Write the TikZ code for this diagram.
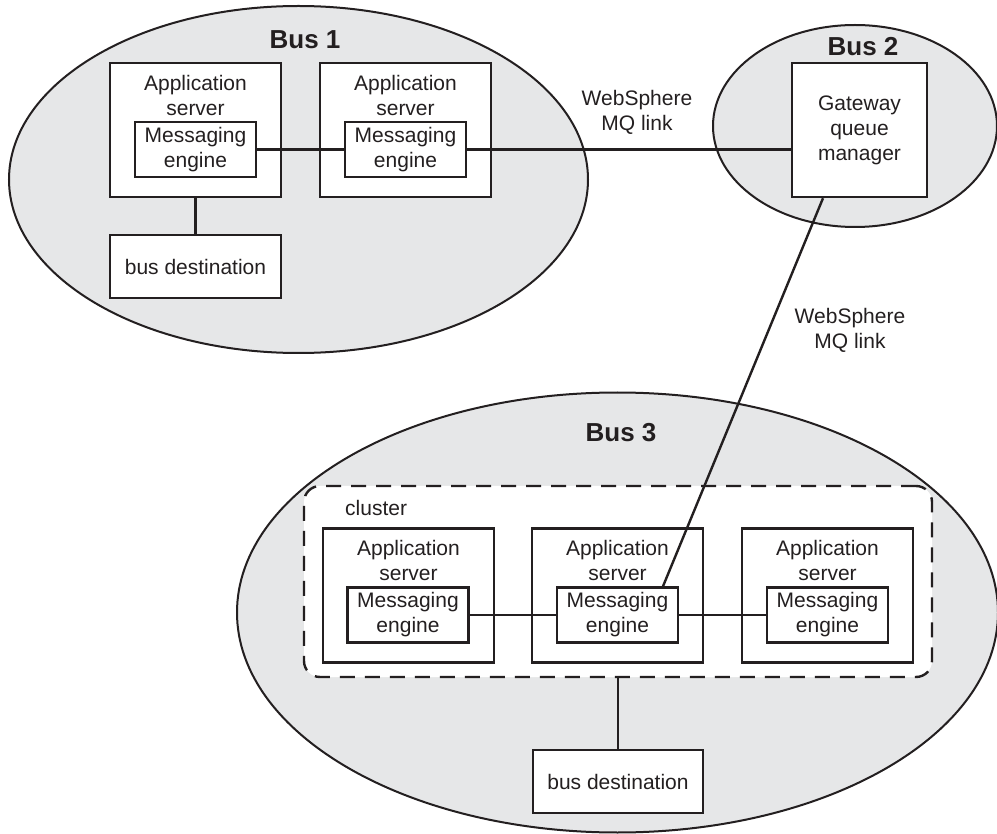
\documentclass[tikz,border=0pt]{standalone}
\usepackage{fontspec}
\setmainfont{Liberation Sans}
\begin{document}
\definecolor{ink}{HTML}{231F20}
\definecolor{busgray}{HTML}{E6E7E8}
\begin{tikzpicture}[x=1pt,y=-1pt,
  every node/.style={text=ink},
  bus/.style={draw=ink,fill=busgray,line width=2pt},
  buslabel/.style={font=\fontsize{26}{30}\selectfont\bfseries,inner sep=0pt},
  txt/.style={font=\fontsize{21}{25}\selectfont,align=center},
  box/.style={draw=ink,fill=white,line width=2.4pt,inner sep=0pt},
  asbox/.style={box,minimum width=171pt,minimum height=134pt,
    label={[txt,anchor=north,inner sep=0pt,yshift=-13pt]north:{Application\\server}}},
  mebox/.style={box,txt,minimum width=121pt,minimum height=55pt},
  destbox/.style={box,txt,minimum width=171pt,minimum height=63pt},
  gwbox/.style={box,txt,minimum width=135pt,minimum height=134pt},
  clusterbox/.style={draw=ink,fill=white,line width=2.4pt,dash pattern=on 15pt off 10pt,
    rounded corners=16pt,minimum width=628pt,minimum height=191pt,inner sep=0pt},
  link/.style={draw=ink,line width=2.4pt}
]
\useasboundingbox (0,0) rectangle (997,834);

% bus ellipses
\draw[bus] (298.5,179.5) ellipse [x radius=289.5, y radius=173.5];
\draw[bus] (855,126) ellipse [x radius=142, y radius=101];
\draw[bus] (617.5,612.5) ellipse [x radius=380.5, y radius=220];

\node[buslabel] (b1) at (305,40) {Bus 1};
\node[buslabel] (b2) at (863,47) {Bus 2};
\node[buslabel] (b3) at (621,433) {Bus 3};

% Bus 1
\node[asbox] (as1) at (195.5,130) {};
\node[mebox] (me1) at (195.5,149.5) {Messaging\\engine};
\node[asbox] (as2) at (405.5,130) {};
\node[mebox] (me2) at (405.5,149.5) {Messaging\\engine};
\node[destbox] (bd1) at (195.5,266.5) {bus destination};

% Bus 2
\node[gwbox] (gw) at (859.5,130) {Gateway\\queue\\manager};

% Bus 3
\node[clusterbox] (cl) at (618,581.5) {};
\node[txt,anchor=base west,inner sep=0pt] (cllabel) at (345,515) {cluster};
\node[asbox] (asL) at (408.5,595.5) {};
\node[mebox] (meL) at (408,615) {Messaging\\engine};
\node[asbox] (asM) at (617.5,595.5) {};
\node[mebox] (meM) at (617.5,615) {Messaging\\engine};
\node[asbox] (asR) at (827.5,595.5) {};
\node[mebox] (meR) at (827.5,615) {Messaging\\engine};
\node[destbox,minimum width=170pt] (bd3) at (618,781.5) {bus destination};

% link labels
\node[txt] (l1) at (637,112) {WebSphere\\MQ link};
\node[txt] (l2) at (850,330) {WebSphere\\MQ link};

% connectors
\draw[link] (as1.south) -- (bd1.north);
\draw[link] (me1.east) -- (me2.west);
\draw[link] (me2.east) -- (me2.east -| gw.west);
\draw[link] ([xshift=-36.5pt]gw.south) -- ([xshift=45.5pt]meM.north);
\draw[link] (meL.east) -- (meM.west);
\draw[link] (meM.east) -- (meR.west);
\draw[link] (cl.south) -- (bd3.north);
\end{tikzpicture}
\end{document}
